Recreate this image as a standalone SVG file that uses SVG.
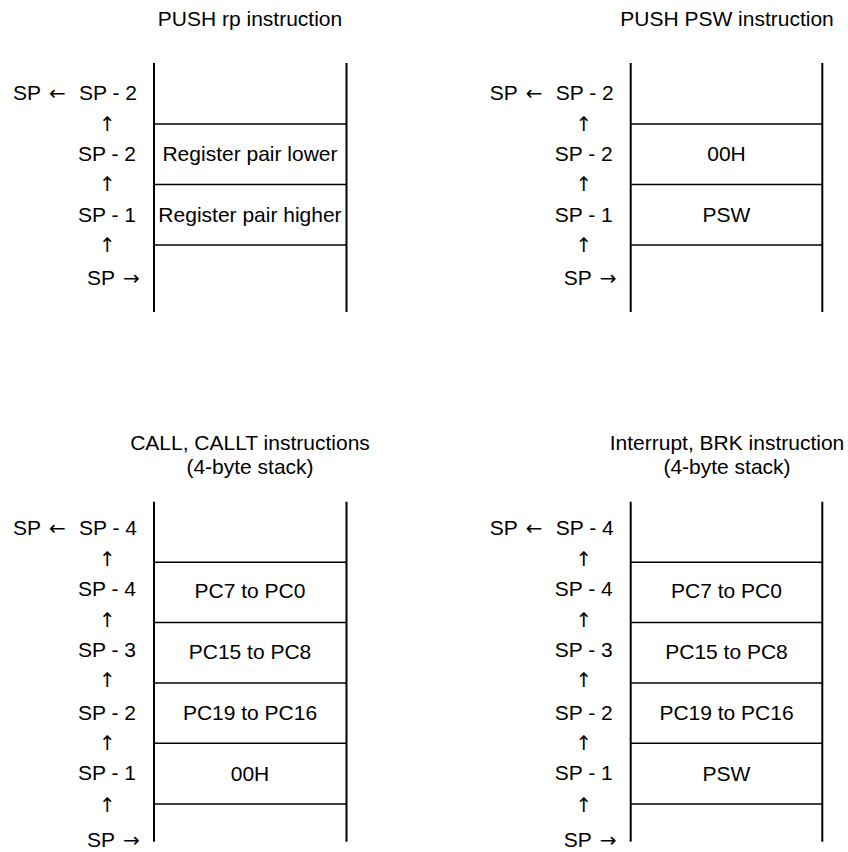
<svg xmlns="http://www.w3.org/2000/svg" width="848" height="852" viewBox="0 0 848 852">
<style>
text{font-family:"Liberation Sans",Arial,sans-serif;font-size:21px;fill:#000}
.a{font-family:"DejaVu Sans",sans-serif;font-size:20px}
.m{text-anchor:middle}
.e{text-anchor:end}
.v{stroke:#000;stroke-width:2;fill:none}
.h{stroke:#000;stroke-width:1.6;fill:none}
</style>
<rect width="848" height="852" fill="#fff"/>
<g id="panel1">
<text class="m" x="250" y="26">PUSH rp instruction</text>
<line class="v" x1="154" y1="63" x2="154" y2="312"/>
<line class="v" x1="346.5" y1="63" x2="346.5" y2="312"/>
<line class="h" x1="154" y1="124" x2="346.5" y2="124"/>
<line class="h" x1="154" y1="184.5" x2="346.5" y2="184.5"/>
<line class="h" x1="154" y1="245" x2="346.5" y2="245"/>
<text class="m" x="250" y="161">Register pair lower</text>
<text class="m" x="250" y="222">Register pair higher</text>
<text x="13" y="100">SP<tspan class="a" x="49">←</tspan><tspan x="79">SP - 2</tspan></text>
<text class="m a" x="107.5" y="131">↑</text>
<text class="e" x="136" y="161">SP - 2</text>
<text class="m a" x="107.5" y="191">↑</text>
<text class="e" x="136" y="222">SP - 1</text>
<text class="m a" x="107.5" y="252">↑</text>
<text x="87" y="285">SP<tspan class="a" x="123">→</tspan></text>
</g>
<g id="panel2">
<text class="m" x="727" y="26">PUSH PSW instruction</text>
<line class="v" x1="630.7" y1="63" x2="630.7" y2="312"/>
<line class="v" x1="822.3" y1="63" x2="822.3" y2="312"/>
<line class="h" x1="630.7" y1="124" x2="822.3" y2="124"/>
<line class="h" x1="630.7" y1="184.5" x2="822.3" y2="184.5"/>
<line class="h" x1="630.7" y1="245" x2="822.3" y2="245"/>
<text class="m" x="726.5" y="161">00H</text>
<text class="m" x="726.5" y="222">PSW</text>
<text x="489.7" y="100">SP<tspan class="a" x="525.7">←</tspan><tspan x="555.7">SP - 2</tspan></text>
<text class="m a" x="584" y="131">↑</text>
<text class="e" x="612.7" y="161">SP - 2</text>
<text class="m a" x="584" y="191">↑</text>
<text class="e" x="612.7" y="222">SP - 1</text>
<text class="m a" x="584" y="252">↑</text>
<text x="563.7" y="285">SP<tspan class="a" x="599.7">→</tspan></text>
</g>
<g id="panel3">
<text class="m" x="250" y="450">CALL, CALLT instructions</text>
<text class="m" x="250" y="474">(4-byte stack)</text>
<line class="v" x1="154" y1="501.7" x2="154" y2="841.7"/>
<line class="v" x1="346.5" y1="501.7" x2="346.5" y2="841.7"/>
<line class="h" x1="154" y1="562.3" x2="346.5" y2="562.3"/>
<line class="h" x1="154" y1="622.5" x2="346.5" y2="622.5"/>
<line class="h" x1="154" y1="683" x2="346.5" y2="683"/>
<line class="h" x1="154" y1="743.3" x2="346.5" y2="743.3"/>
<line class="h" x1="154" y1="804" x2="346.5" y2="804"/>
<text class="m" x="250" y="598">PC7 to PC0</text>
<text class="m" x="250" y="658.5">PC15 to PC8</text>
<text class="m" x="250" y="720">PC19 to PC16</text>
<text class="m" x="250" y="780.5">00H</text>
<text x="13" y="535">SP<tspan class="a" x="49">←</tspan><tspan x="79">SP - 4</tspan></text>
<text class="m a" x="107.5" y="565.5">↑</text>
<text class="e" x="136" y="596">SP - 4</text>
<text class="m a" x="107.5" y="627">↑</text>
<text class="e" x="136" y="657">SP - 3</text>
<text class="m a" x="107.5" y="687">↑</text>
<text class="e" x="136" y="720">SP - 2</text>
<text class="m a" x="107.5" y="749.5">↑</text>
<text class="e" x="136" y="780">SP - 1</text>
<text class="m a" x="107.5" y="811.5">↑</text>
<text x="87" y="846.5">SP<tspan class="a" x="123">→</tspan></text>
</g>
<g id="panel4">
<text class="m" x="727" y="450">Interrupt, BRK instruction</text>
<text class="m" x="727" y="474">(4-byte stack)</text>
<line class="v" x1="630.7" y1="501.7" x2="630.7" y2="841.7"/>
<line class="v" x1="822.3" y1="501.7" x2="822.3" y2="841.7"/>
<line class="h" x1="630.7" y1="562.3" x2="822.3" y2="562.3"/>
<line class="h" x1="630.7" y1="622.5" x2="822.3" y2="622.5"/>
<line class="h" x1="630.7" y1="683" x2="822.3" y2="683"/>
<line class="h" x1="630.7" y1="743.3" x2="822.3" y2="743.3"/>
<line class="h" x1="630.7" y1="804" x2="822.3" y2="804"/>
<text class="m" x="726.5" y="598">PC7 to PC0</text>
<text class="m" x="726.5" y="658.5">PC15 to PC8</text>
<text class="m" x="726.5" y="720">PC19 to PC16</text>
<text class="m" x="726.5" y="780.5">PSW</text>
<text x="489.7" y="535">SP<tspan class="a" x="525.7">←</tspan><tspan x="555.7">SP - 4</tspan></text>
<text class="m a" x="584" y="565.5">↑</text>
<text class="e" x="612.7" y="596">SP - 4</text>
<text class="m a" x="584" y="627">↑</text>
<text class="e" x="612.7" y="657">SP - 3</text>
<text class="m a" x="584" y="687">↑</text>
<text class="e" x="612.7" y="720">SP - 2</text>
<text class="m a" x="584" y="749.5">↑</text>
<text class="e" x="612.7" y="780">SP - 1</text>
<text class="m a" x="584" y="811.5">↑</text>
<text x="563.7" y="846.5">SP<tspan class="a" x="599.7">→</tspan></text>
</g>
</svg>
